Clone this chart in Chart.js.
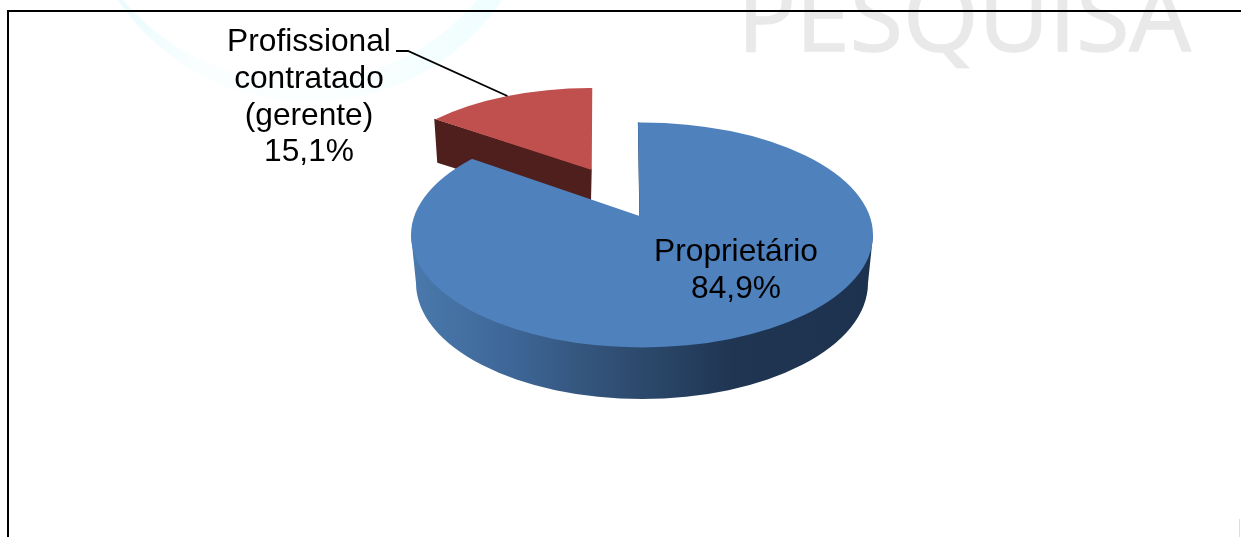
<!DOCTYPE html>
<html>
<head>
<meta charset="utf-8">
<script src="https://cdn.jsdelivr.net/npm/chart.js@4"></script>
<style>
  html, body { margin: 0; padding: 0; background: #fff; overflow: hidden; }
  canvas { display: block; }
</style>
</head>
<body>
<canvas id="ownerChart" width="1241" height="537"></canvas>
<script>
const categories = ["Proprietário", "Profissional contratado (gerente)"];
const shares = [84.9, 15.1];
const labelLines = [["Proprietário"], ["Profissional", "contratado", "(gerente)"]];
const sliceColors = ['#4f81bd', '#c0504d'];

// look of the tilted pie, one per slice: y squash + small skew, shift, rim ellipse around the apex
const tilts = [
  { squash: 0.478, skew: 0.0076, shiftY: 0, dx: 2.5, dy: 19, rx: 231, ry: 112.5 },
  { squash: 0.44, skew: -0.0117, shiftY: -4.2, dx: -2, dy: 24.2, rx: 218, ry: 106 }
];

function dirOf(angle, tilt) {
  return { x: Math.cos(angle) + tilt.skew * Math.sin(angle), y: tilt.squash * Math.sin(angle) };
}

// apex of a slice on screen, explode offset included
function apexOf(arc, tilt) {
  const mid = (arc.startAngle + arc.endAngle) / 2;
  const d = dirOf(mid, tilt), off = (arc.options.offset || 0) / 4;
  return { x: arc.x + d.x * off, y: arc.y + d.y * off + tilt.shiftY };
}

// where the ray from the apex at this angle meets the rim ellipse
function rimPoint(apex, angle, tilt) {
  const d = dirOf(angle, tilt);
  const ax = d.x / tilt.rx, ay = d.y / tilt.ry;
  const bx = -tilt.dx / tilt.rx, by = -tilt.dy / tilt.ry;
  const a = ax * ax + ay * ay, b = 2 * (ax * bx + ay * by), c = bx * bx + by * by - 1;
  const t = (-b + Math.sqrt(b * b - 4 * a * c)) / (2 * a);
  return { x: apex.x + d.x * t, y: apex.y + d.y * t };
}

function drawTop(ctx, arc, tilt) {
  const apex = apexOf(arc, tilt);
  ctx.save();
  ctx.beginPath();
  ctx.ellipse(apex.x + tilt.dx, apex.y + tilt.dy, tilt.rx, tilt.ry, 0, 0, Math.PI * 2);
  ctx.clip();
  ctx.translate(arc.x, arc.y + tilt.shiftY);
  ctx.transform(1, 0, tilt.skew, tilt.squash, 0, 0);
  ctx.translate(-arc.x, -arc.y);
  arc.draw(ctx);
  ctx.restore();
}

function poly(ctx, pts, color) {
  ctx.fillStyle = color;
  ctx.beginPath();
  pts.forEach((p, i) => i ? ctx.lineTo(p.x, p.y) : ctx.moveTo(p.x, p.y));
  ctx.closePath();
  ctx.fill();
}

const pie3d = {
  id: 'pie3d',
  beforeDraw(chart) {
    const ctx = chart.ctx;
    ctx.save();
    // faint background of the slide
    const glow = ctx.createLinearGradient(118, 0, 507, 0);
    glow.addColorStop(0, '#e9fbfd');
    glow.addColorStop(0.2, '#fafeff');
    glow.addColorStop(0.5, '#fcffff');
    glow.addColorStop(1, '#effdfe');
    ctx.fillStyle = glow;
    ctx.beginPath();
    ctx.arc(310, -130, 232, 0, Math.PI * 2);
    ctx.arc(300, -150, 232, 0, Math.PI * 2, true);
    ctx.fill('evenodd');
    ctx.fillStyle = '#e9e9e9';
    ctx.strokeStyle = '#e9e9e9';
    ctx.lineWidth = 1.5;
    ctx.font = '97px "Open Sans"';
    ctx.textAlign = 'left';
    ctx.textBaseline = 'alphabetic';
    ctx.fillText('PESQUISA', 737.5, 51);
    ctx.strokeText('PESQUISA', 737.5, 51);
    // frame
    ctx.fillStyle = '#000';
    ctx.fillRect(7, 10, 1234, 2);
    ctx.fillRect(7, 10, 2, 527);
    ctx.fillStyle = '#dddddd';
    ctx.fillRect(1239, 519, 1, 18);
    ctx.restore();
  },
  beforeDatasetsDraw(chart) {
    const ctx = chart.ctx;
    const [blue, red] = chart.getDatasetMeta(0).data;

    // red slice: inner wall first, then its top
    const redApex = apexOf(red, tilts[1]);
    const redLeft = rimPoint(redApex, red.startAngle, tilts[1]);
    poly(ctx, [
      { x: redLeft.x, y: redLeft.y - 1 }, { x: redApex.x, y: redApex.y - 1 },
      { x: redApex.x - 1, y: redApex.y + 42 },
      { x: redLeft.x + 36, y: redLeft.y + 55 },
      { x: redLeft.x + 19, y: redLeft.y + 48 },
      { x: redLeft.x + 3, y: redLeft.y + 43 }
    ], '#4e1f1d');
    drawTop(ctx, red, tilts[1]);

    // blue slice: outer wall, thin edge of the cut, then its top
    const rim = tilts[0];
    const cx = blue.x + rim.dx, cy = blue.y + rim.dy;
    const wall = ctx.createLinearGradient(cx - rim.rx, 0, cx + rim.rx, 0);
    wall.addColorStop(0, '#4a79ad');
    wall.addColorStop(0.2, '#3f6899');
    wall.addColorStop(0.45, '#2f4e72');
    wall.addColorStop(0.7, '#1f3552');
    wall.addColorStop(1, '#1d324e');
    ctx.save();
    ctx.beginPath();
    ctx.rect(0, cy, chart.width, chart.height - cy);
    ctx.clip();
    ctx.fillStyle = wall;
    ctx.beginPath();
    ctx.moveTo(cx - rim.rx, cy);
    ctx.lineTo(cx + rim.rx, cy);
    ctx.lineTo(cx + rim.rx - 5, cy + 48);
    ctx.ellipse(cx, cy + 48, rim.rx - 5, rim.ry + 3.5, 0, 0, Math.PI);
    ctx.closePath();
    ctx.fill();
    ctx.restore();

    const blueApex = apexOf(blue, rim);
    const blueStart = rimPoint(blueApex, blue.startAngle, rim);
    ctx.strokeStyle = '#1f3553';
    ctx.lineWidth = 1.5;
    ctx.beginPath();
    ctx.moveTo(blueStart.x + 0.6, blueStart.y);
    ctx.lineTo(blueApex.x + 0.6, blueApex.y);
    ctx.stroke();
    drawTop(ctx, blue, rim);

    // labels
    ctx.fillStyle = '#000';
    ctx.font = '31.7px "Liberation Sans"';
    ctx.textAlign = 'center';
    ctx.textBaseline = 'alphabetic';
    const pct = v => v.toFixed(1).replace('.', ',') + '%';
    labelLines[0].concat(pct(shares[0])).forEach((t, i) => ctx.fillText(t, 736, 261 + i * 37));
    labelLines[1].concat(pct(shares[1])).forEach((t, i) => ctx.fillText(t, 309, 51 + i * 36.8));

    // leader line to the red slice
    const mid = (red.startAngle + red.endAngle) / 2;
    const end = rimPoint(redApex, mid, tilts[1]);
    ctx.strokeStyle = '#000';
    ctx.lineWidth = 1.8;
    ctx.beginPath();
    ctx.moveTo(396, 51);
    ctx.lineTo(408, 51);
    ctx.lineTo(end.x, end.y);
    ctx.stroke();
    return false;
  }
};

new Chart(document.getElementById("ownerChart"), {
  type: 'pie',
  data: {
    labels: categories,
    datasets: [{
      data: shares,
      backgroundColor: sliceColors,
      borderWidth: 0,
      offset: [0, 428]
    }]
  },
  options: {
    responsive: false,
    animation: false,
    radius: 340,
    layout: { padding: { left: 38, right: 0, top: 0, bottom: 105 } },
    plugins: {
      legend: { display: false },
      tooltip: { enabled: false }
    }
  },
  plugins: [pie3d]
});
</script>
</body>
</html>
